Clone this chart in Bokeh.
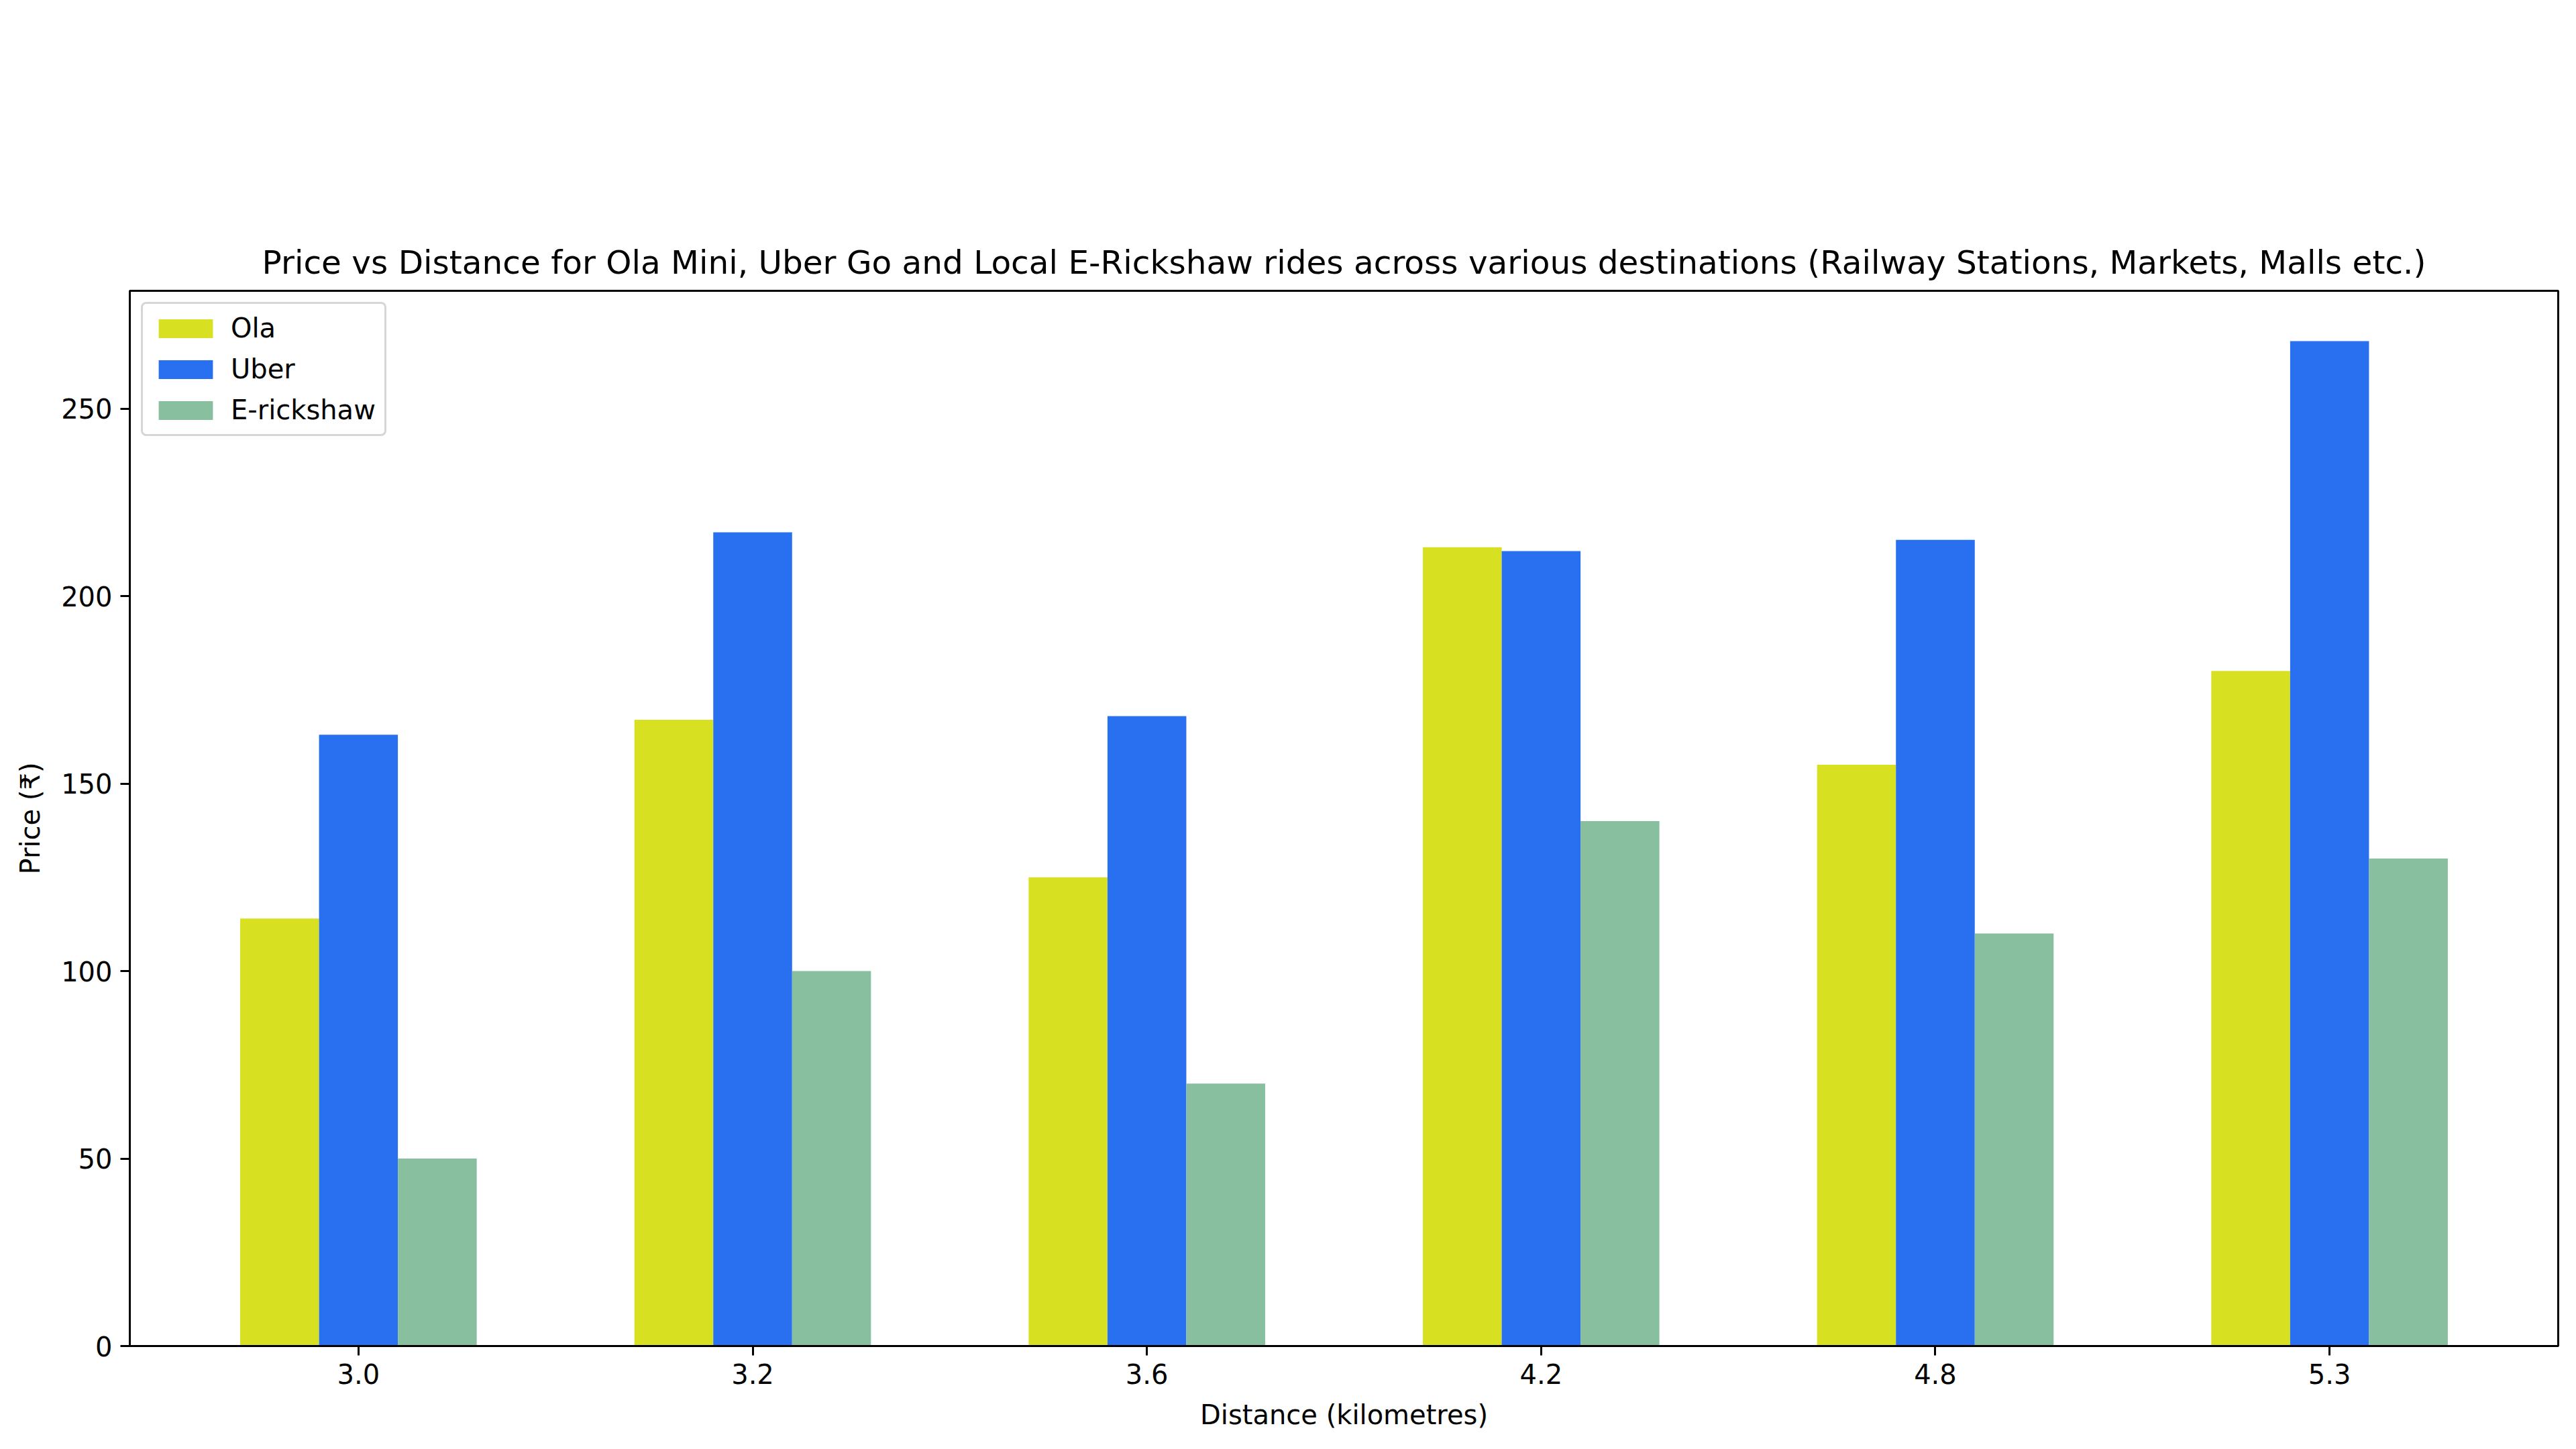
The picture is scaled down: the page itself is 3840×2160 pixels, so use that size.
import numpy as np
from bokeh.plotting import figure
from bokeh.models import ColumnDataSource, Range1d, FixedTicker, Legend, LegendItem
from bokeh.embed import file_html
from bokeh.resources import INLINE

# ---- data ----
distances = ["3.0", "3.2", "3.6", "4.2", "4.8", "5.3"]
ola = [114, 167, 125, 213, 155, 180]
uber = [163, 217, 168, 212, 215, 268]
erickshaw = [50, 100, 70, 140, 110, 130]
series_names = ["Ola", "Uber", "E-rickshaw"]
series_colors = ["#d7e021", "#2970f0", "#88bf9f"]
y_ticks = [0, 50, 100, 150, 200, 250]

FONT = "DejaVu Sans"
W, H = 3824, 2144
bar_w = 0.2

idx = np.arange(len(distances))
xmin = idx.min() - bar_w * 1.5
xmax = idx.max() + bar_w * 1.5
pad = (xmax - xmin) * 0.05
ymax = max(max(ola), max(uber), max(erickshaw)) * 1.05

p = figure(width=W, height=H, output_backend="svg", toolbar_location=None,
           x_range=Range1d(xmin - pad, xmax + pad), y_range=Range1d(0, ymax),
           min_border_left=193, min_border_right=11, min_border_top=433, min_border_bottom=138)

p.title.text = ("Price vs Distance for Ola Mini, Uber Go and Local E-Rickshaw rides across "
                "various destinations (Railway Stations, Markets, Malls etc.)")
p.title.text_font = FONT
p.title.text_font_size = "48.5px"
p.title.text_font_style = "normal"
p.title.text_color = "black"
p.title.align = "center"
p.title.standoff = 29

items = []
for k, (name, vals, col) in enumerate(zip(series_names, [ola, uber, erickshaw], series_colors)):
    src = ColumnDataSource(dict(x=idx + (k - 1) * bar_w, top=vals))
    r = p.vbar(x="x", top="top", bottom=0, width=bar_w, source=src,
               fill_color=col, line_color=None)
    items.append(LegendItem(label=name, renderers=[r]))

legend = Legend(items=items, location="top_left", margin=17)
legend.label_text_font = FONT
legend.label_text_font_size = "40px"
legend.label_text_color = "black"
legend.glyph_width = 101
legend.glyph_height = 35
legend.label_standoff = 17
legend.padding = 13
legend.spacing = 15
legend.border_line_color = "#cccccc"
legend.border_line_width = 3
legend.border_line_alpha = 0.8
legend.background_fill_alpha = 0.8
try:
    legend.border_radius = 8
except Exception:
    pass
p.add_layout(legend, "center")

p.grid.visible = False
p.outline_line_color = "black"
p.outline_line_width = 3
p.outline_line_alpha = 1

for ax in (p.xaxis[0], p.yaxis[0]):
    ax.axis_line_color = "black"
    ax.axis_line_width = 3
    ax.major_tick_line_width = 3
    ax.major_tick_line_color = "black"
    ax.major_tick_out = 14
    ax.major_tick_in = 0
    ax.minor_tick_line_color = None
    ax.major_label_text_font = FONT
    ax.major_label_text_font_size = "40px"
    ax.major_label_text_color = "black"
    ax.axis_label_text_font = FONT
    ax.axis_label_text_font_size = "40px"
    ax.axis_label_text_font_style = "normal"
    ax.axis_label_text_color = "black"
    ax.major_label_standoff = 12

p.xaxis[0].ticker = FixedTicker(ticks=list(idx))
p.xaxis[0].major_label_overrides = {int(i): d for i, d in zip(idx, distances)}
p.xaxis[0].axis_label = "Distance (kilometres)"
p.xaxis[0].axis_label_standoff = 20

p.yaxis[0].ticker = FixedTicker(ticks=y_ticks)
p.yaxis[0].axis_label = "Price (₹)"
p.yaxis[0].axis_label_standoff = 20

open("out.html", "w").write(file_html(p, INLINE))
